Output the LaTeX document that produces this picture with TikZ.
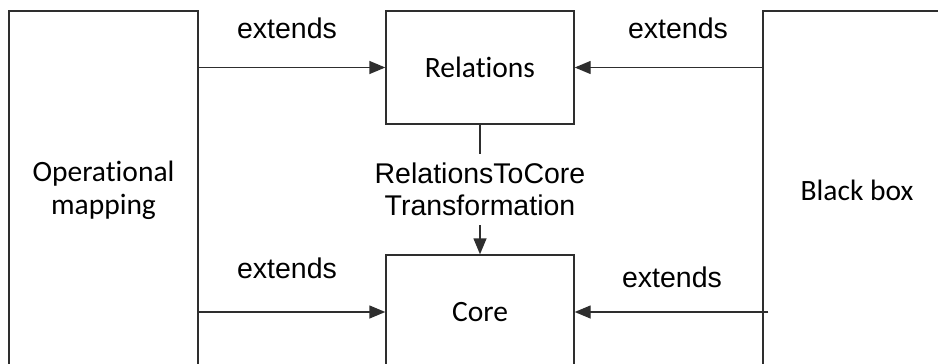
\documentclass[tikz,border=0pt]{standalone}
\usepackage{fontspec}
\setmainfont{Carlito}[Ligatures=NoCommon]
\newfontfamily\arialfont{Liberation Sans}
\usetikzlibrary{arrows.meta,calc}

\definecolor{linegray}{HTML}{2E2E2E}

\tikzset{
  block/.style={draw=linegray, line width=1.4pt, rectangle, inner sep=0pt,
    align=center, font=\fontsize{29.5}{33}\selectfont},
  link/.style={draw=linegray, line width=1.4pt},
  arr/.style={link, -{Triangle[length=16pt,width=13pt]}},
  tag/.style={font=\arialfont\fontsize{28.5}{32.5}\selectfont, inner sep=0pt, align=center}
}

\begin{document}
\begin{tikzpicture}[x=1pt,y=-1pt]
  \useasboundingbox (0,0) rectangle (938,364);

  % boxes
  \node[block, minimum width=189pt, minimum height=358pt] (opm) at (103.5,190) {Operational\\mapping};
  \node[block, minimum width=188pt, minimum height=358pt] (bb)  at (857,190) {Black box};
  \node[block, minimum width=188pt, minimum height=113pt] (rel) at (480,67.5) {Relations};
  \node[block, minimum width=188pt, minimum height=114pt] (core) at (480,312) {Core};

  % transformation label between Relations and Core
  \node[tag, minimum height=71pt] (trans) at (480,189.5) {RelationsToCore\\Transformation};
  \draw[link] (rel.south) -- (trans.north);
  \draw[arr] (trans.south) -- (core.north);

  % extension arrows
  \draw[arr] (rel.west -| opm.east) -- (rel.west);
  \draw[arr] (core.west -| opm.east) -- (core.west);
  \draw[arr] (rel.east -| bb.west) -- (rel.east);
  \coordinate (bbstub) at ($(core.east -| bb.west)+(6,0)$);
  \draw[arr] (bbstub) -- (core.east);

  % labels
  \node[tag, anchor=base] (e1) at (287,38) {extends};
  \node[tag, anchor=base] (e2) at (678,38) {extends};
  \node[tag, anchor=base] (e3) at (287,278) {extends};
  \node[tag, anchor=base] (e4) at (672,287) {extends};
\end{tikzpicture}
\end{document}
